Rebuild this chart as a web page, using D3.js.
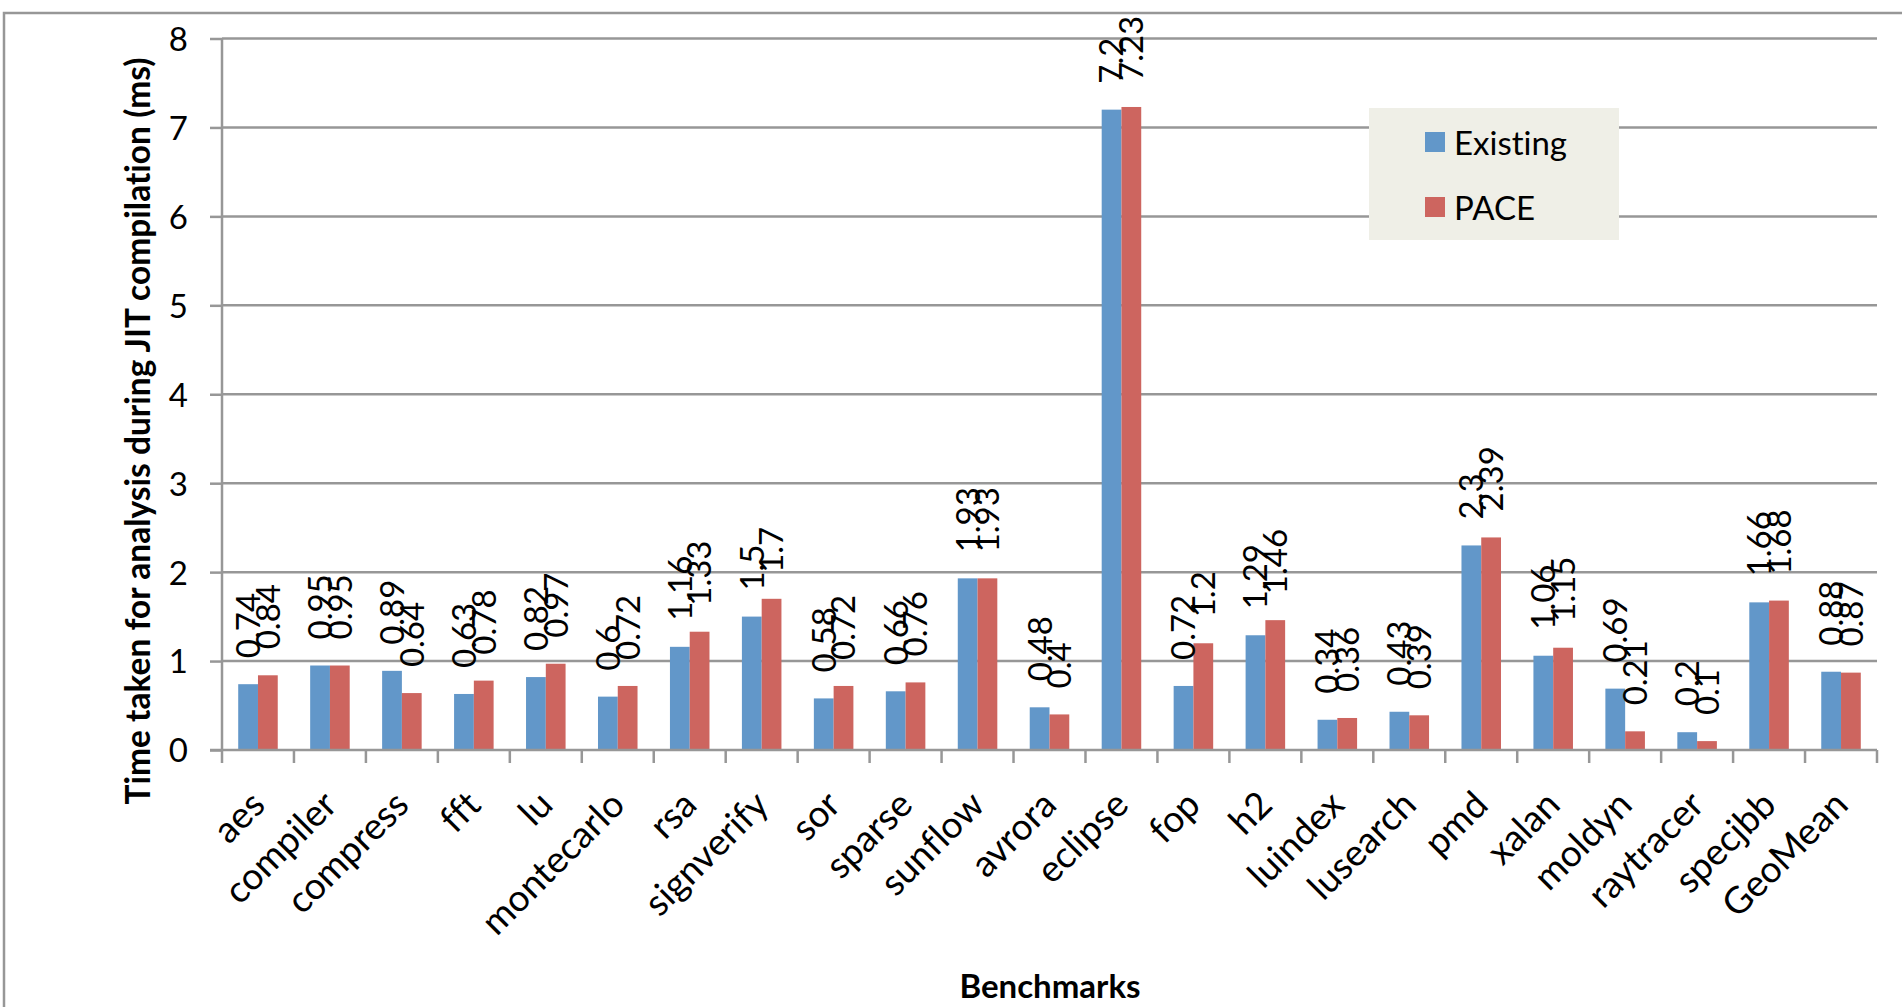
<!DOCTYPE html>
<html>
<head>
<meta charset="utf-8">
<script src="https://cdn.jsdelivr.net/npm/d3@7"></script>
<style>
  body { margin: 0; background: #fff; }
  text { font-family: Lato, "Open Sans", sans-serif; fill: #000; font-variant-ligatures: none; }
</style>
</head>
<body>
<script>
// DATA
const categories = ["aes", "compiler", "compress", "fft", "lu", "montecarlo", "rsa", "signverify", "sor", "sparse", "sunflow",
    "avrora", "eclipse", "fop", "h2", "luindex", "lusearch", "pmd", "xalan", "moldyn", "raytracer", "specjbb", "GeoMean"];
const existing = [0.74, 0.95, 0.89, 0.63, 0.82, 0.6, 1.16, 1.5, 0.58, 0.66, 1.93,
    0.48, 7.2, 0.72, 1.29, 0.34, 0.43, 2.3, 1.06, 0.69, 0.2, 1.66, 0.88];
const pace = [0.84, 0.95, 0.64, 0.78, 0.97, 0.72, 1.33, 1.7, 0.72, 0.76, 1.93,
    0.4, 7.23, 1.2, 1.46, 0.36, 0.39, 2.39, 1.15, 0.21, 0.1, 1.68, 0.87];
const seriesNames = ["Existing", "PACE"];
const yTicks = [0, 1, 2, 3, 4, 5, 6, 7, 8];

// 1: SET GLOBAL VARIABLES
const width = 1902;
const height = 1007;
const plot = { left: 222, right: 1877, top: 38.5, bottom: 750 };
const gridColor = "#979797";
const colors = { Existing: "#6297C9", PACE: "#CD655F" };

const svg = d3.select("body")
    .append("svg")
    .attr("width", width)
    .attr("height", height);

// outer chart border (cut off at right and bottom like the original)
svg.append("rect")
    .attr("x", 4)
    .attr("y", 13)
    .attr("width", width)
    .attr("height", height)
    .attr("fill", "none")
    .attr("stroke", gridColor)
    .attr("stroke-width", 2.5);

const xScale = d3.scaleBand()
    .domain(categories)
    .range([plot.left, plot.right]);

const xSub = d3.scaleBand()
    .domain(seriesNames)
    .range([0, xScale.bandwidth()])
    .paddingOuter(0.82);

const yScale = d3.scaleLinear()
    .domain([0, 8])
    .range([plot.bottom, plot.top]);

// GRIDLINES
svg.append("g")
    .selectAll("line")
    .data(yTicks.filter(d => d > 0))
    .enter()
    .append("line")
    .attr("x1", plot.left)
    .attr("x2", plot.right)
    .attr("y1", d => yScale(d))
    .attr("y2", d => yScale(d))
    .attr("stroke", gridColor)
    .attr("stroke-width", 2.5);

// Y AXIS
const yAxis = svg.append("g")
    .attr("transform", `translate(${plot.left},0)`)
    .call(d3.axisLeft(yScale).tickValues(yTicks).tickSize(12).tickPadding(22).tickFormat(d3.format("d")));
yAxis.select(".domain").attr("stroke", gridColor).attr("stroke-width", 2.5)
    .attr("d", `M0,${plot.top}V${plot.bottom}`);
yAxis.selectAll(".tick line").attr("stroke", gridColor).attr("stroke-width", 2.5);
yAxis.selectAll(".tick text")
    .attr("font-size", "33px")
    .attr("dy", "0.36em")
    .attr("fill", "#000");

// BARS
const rows = categories.map((c, i) => ({ cat: c, values: [
    { key: "Existing", value: existing[i] },
    { key: "PACE", value: pace[i] }
] }));

const groups = svg.append("g")
    .selectAll("g")
    .data(rows)
    .enter()
    .append("g")
    .attr("transform", d => `translate(${xScale(d.cat)},0)`);

groups.selectAll("rect")
    .data(d => d.values)
    .enter()
    .append("rect")
    .attr("x", d => xSub(d.key))
    .attr("y", d => yScale(d.value))
    .attr("width", xSub.bandwidth())
    .attr("height", d => yScale(0) - yScale(d.value))
    .attr("fill", d => colors[d.key]);

// DATA LABELS (rotated, above each bar)
groups.selectAll("text")
    .data(d => d.values)
    .enter()
    .append("text")
    .attr("transform", d => `translate(${xSub(d.key) + xSub.bandwidth() / 2},${yScale(d.value) - 26}) rotate(-90)`)
    .attr("dy", "0.36em")
    .attr("font-size", "33px")
    .text(d => d.value);

// X AXIS
svg.append("line")
    .attr("x1", plot.left - 12)
    .attr("x2", plot.right)
    .attr("y1", plot.bottom)
    .attr("y2", plot.bottom)
    .attr("stroke", gridColor)
    .attr("stroke-width", 2.5);

const tickXs = categories.map(c => xScale(c)).concat([xScale.range()[1]]);
svg.append("g")
    .selectAll("line")
    .data(tickXs)
    .enter()
    .append("line")
    .attr("x1", d => d)
    .attr("x2", d => d)
    .attr("y1", plot.bottom)
    .attr("y2", plot.bottom + 13)
    .attr("stroke", gridColor)
    .attr("stroke-width", 2.5);

svg.append("g")
    .selectAll("text")
    .data(categories)
    .enter()
    .append("text")
    .attr("transform", d => `translate(${xScale(d) + xScale.bandwidth() / 2 + 9},807) rotate(-45)`)
    .attr("text-anchor", "end")
    .attr("font-size", "37px")
    .text(d => d);

// AXIS TITLES
svg.append("text")
    .attr("x", 1050)
    .attr("y", 998)
    .attr("text-anchor", "middle")
    .attr("font-size", "33px")
    .attr("font-weight", "bold")
    .text("Benchmarks");

svg.append("text")
    .attr("transform", "rotate(-90)")
    .attr("x", -431)
    .attr("y", 150)
    .attr("text-anchor", "middle")
    .attr("font-size", "33.5px")
    .attr("font-weight", "bold")
    .text("Time taken for analysis during JIT compilation (ms)");

// LEGEND
const legend = svg.append("g").attr("transform", "translate(1369,108)");
legend.append("rect")
    .attr("width", 250)
    .attr("height", 132)
    .attr("fill", "#EFEFE7");

legend.selectAll(".legend-rect")
    .data(seriesNames)
    .enter()
    .append("rect")
    .attr("class", "legend-rect")
    .attr("x", 56)
    .attr("y", (_, i) => 24 + i * 65)
    .attr("width", 20)
    .attr("height", 20)
    .attr("fill", d => colors[d]);

legend.selectAll(".legend-text")
    .data(seriesNames)
    .enter()
    .append("text")
    .attr("class", "legend-text")
    .attr("x", 85)
    .attr("y", (_, i) => 47 + i * 65)
    .attr("font-size", "33px")
    .text(d => d);
</script>
</body>
</html>
